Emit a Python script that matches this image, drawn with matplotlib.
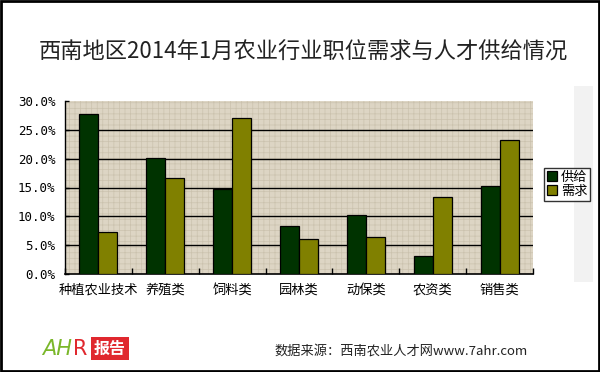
import matplotlib
matplotlib.use("Agg")
import matplotlib.pyplot as plt
import numpy as np
from matplotlib.patches import Rectangle

plt.rcParams['font.family'] = ['Noto Sans CJK SC', 'DejaVu Sans']
plt.rcParams['hatch.linewidth'] = 0.5

title = "西南地区2014年1月农业行业职位需求与人才供给情况"
categories = ["种植农业技术", "养殖类", "饲料类", "园林类", "动保类", "农资类", "销售类"]
supply = [27.7, 20.2, 14.8, 8.4, 10.2, 3.1, 15.2]
demand = [7.2, 16.6, 27.0, 6.0, 6.4, 13.3, 23.2]
series_names = ["供给", "需求"]
yticks = [0, 5, 10, 15, 20, 25, 30]
ytick_labels = ["0.0%", "5.0%", "10.0%", "15.0%", "20.0%", "25.0%", "30.0%"]
source = "数据来源：西南农业人才网www.7ahr.com"

W, H = 600, 372
fig = plt.figure(figsize=(W/100, H/100), dpi=100)
fig.patch.set_facecolor('white')

def fx(px): return px / W
def fy(py): return 1 - py / H

# outer border
fig.add_artist(Rectangle((0.0015, 0.002), 0.997, 0.995, transform=fig.transFigure,
                         fill=False, edgecolor='black', linewidth=2))
# gray side panel
fig.add_artist(Rectangle((fx(574), fy(282)), fx(593) - fx(574), fy(86) - fy(282),
                         transform=fig.transFigure, facecolor='#f2f2f2', edgecolor='none', zorder=0))

ax = fig.add_axes([fx(65), fy(274), fx(533) - fx(65), fy(101) - fy(274)])
ax.patch.set_visible(False)
bg = Rectangle((0, 0), 1, 1, transform=ax.transAxes, facecolor='#ddd5c4',
               edgecolor='#cbc2ae', hatch='+++', linewidth=0, zorder=0)
ax.add_patch(bg)

x = np.arange(len(categories))
w = 0.285
ax.bar(x - w/2, supply, w, color='#003300', edgecolor='black', linewidth=0.9,
       label=series_names[0], zorder=3)
ax.bar(x + w/2, demand, w, color='#808000', edgecolor='black', linewidth=0.9,
       label=series_names[1], zorder=3)

ax.set_xlim(-0.5, len(categories) - 0.5)
ax.set_ylim(0, 30)
ax.set_yticks(yticks)
ax.set_yticklabels(ytick_labels, family=['DejaVu Sans Mono'], fontsize=9)
for yv in yticks[1:-1]:
    ax.axhline(yv, color='black', linewidth=1.0, zorder=2)

ax.set_xticks(x)
ax.set_xticklabels(categories, fontsize=9.5)
ax.tick_params(axis='x', length=0, pad=7)
ax.tick_params(axis='y', direction='in', length=3, pad=7, width=1)
ax.set_xticks(np.arange(-0.5, len(categories), 1.0), minor=True)
ax.tick_params(axis='x', which='minor', direction='in', length=4, width=1)

for s in ['top', 'right']:
    ax.spines[s].set_visible(False)
ax.spines['left'].set_linewidth(1.0)
ax.spines['bottom'].set_linewidth(1.2)

leg = fig.legend(loc='upper left', bbox_to_anchor=(fx(544), fy(168)),
                 fontsize=9.5, frameon=True, fancybox=False, edgecolor='black',
                 handlelength=0.8, handleheight=0.8, handletextpad=0.3,
                 borderpad=0.2, labelspacing=0.1, borderaxespad=0)
leg.get_frame().set_linewidth(1.0)

fig.text(fx(303), fy(52), title, ha='center', va='center', fontsize=16,
         color='#222222')

fig.text(fx(274), fy(351), source, ha='left', va='center', fontsize=9.5, color='#222222')

# logo
fig.text(fx(42), fy(349), "AH", ha='left', va='center', fontsize=15, color='#7ab72a',
         style='italic', family=['DejaVu Sans'])
fig.text(fx(73), fy(349), "R", ha='left', va='center', fontsize=15, color='#e0282e',
         family=['DejaVu Sans'])
fig.add_artist(Rectangle((fx(91), fy(360)), fx(129) - fx(91), fy(337) - fy(360),
                         transform=fig.transFigure, facecolor='#e0282e', edgecolor='none'))
fig.text(fx(110), fy(348.5), "报告", ha='center', va='center', fontsize=11.5,
         color='white', weight='bold')

fig.savefig("out.png", dpi=100)
